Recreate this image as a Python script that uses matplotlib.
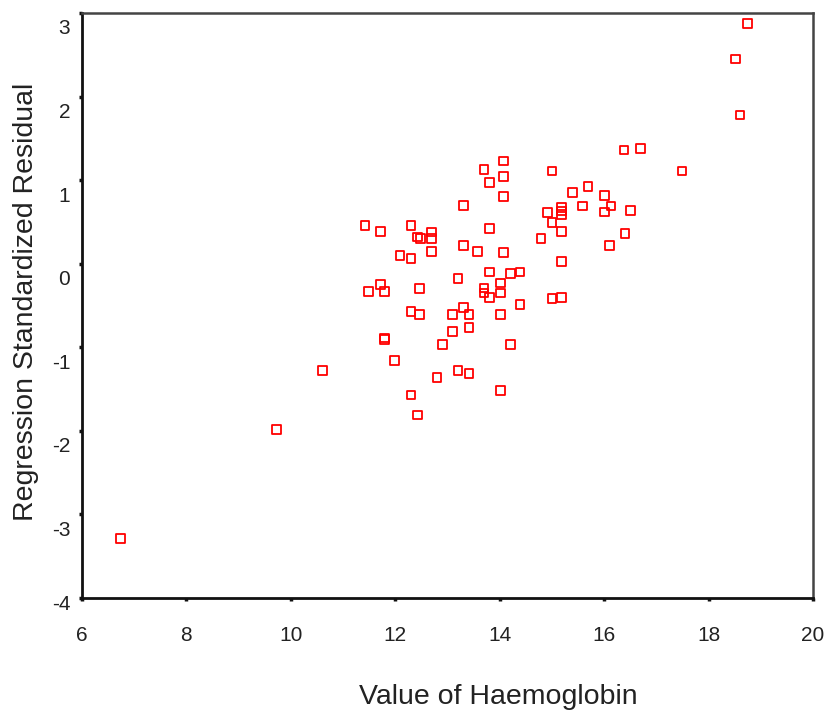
import matplotlib

matplotlib.use("Agg")
import matplotlib.pyplot as plt
import matplotlib.transforms as mtransforms

# Haemoglobin value vs regression standardized residual
haemoglobin = [
    6.73, 9.72, 10.60,
    11.42, 11.71, 11.48, 11.71, 11.80, 11.80, 11.80, 11.98,
    12.09, 12.30, 12.30, 12.42, 12.49, 12.70, 12.70, 12.70,
    12.30, 12.47, 12.47, 12.30, 12.42, 12.80, 12.91,
    13.09, 13.09, 13.20, 13.20, 13.30, 13.30, 13.30, 13.41, 13.41, 13.41,
    13.58, 13.70, 13.70, 13.70, 13.80, 13.80, 13.80, 13.80,
    14.01, 14.01, 14.01, 14.01, 14.08, 14.08, 14.08, 14.08,
    14.20, 14.20, 14.39, 14.39,
    14.79, 14.91, 15.00, 15.00, 15.00, 15.19, 15.19, 15.19, 15.19, 15.19, 15.19,
    15.40, 15.58, 15.69, 16.00, 16.00, 16.13, 16.11, 16.40, 16.50, 16.38, 16.69, 17.49,
    18.51, 18.60, 18.74,
]
std_residual = [
    -3.29, -1.98, -1.28,
    0.46, 0.39, -0.33, -0.25, -0.33, -0.89, -0.91, -1.16,
    0.10, 0.06, 0.46, 0.32, 0.30, 0.38, 0.30, 0.15,
    -0.57, -0.30, -0.61, -1.57, -1.81, -1.36, -0.97,
    -0.61, -0.81, -0.18, -1.28, 0.70, 0.22, -0.52, -0.61, -0.76, -1.31,
    0.15, 1.13, -0.29, -0.35, 0.97, 0.42, -0.10, -0.40,
    -0.23, -0.35, -0.61, -1.52, 1.23, 1.04, 0.80, 0.13,
    -0.12, -0.97, -0.10, -0.49,
    0.30, 0.61, 1.11, 0.49, -0.42, 0.67, 0.63, 0.59, 0.39, 0.03, -0.40,
    0.85, 0.69, 0.92, 0.82, 0.62, 0.69, 0.22, 0.36, 0.64, 1.36, 1.38, 1.11,
    2.45, 1.78, 2.87,
]
x_ticks = [6, 8, 10, 12, 14, 16, 18, 20]
y_ticks = [-4, -3, -2, -1, 0, 1, 2, 3]

plt.rcParams["font.family"] = ["Liberation Sans", "DejaVu Sans"]
plt.rcParams["axes.unicode_minus"] = False

fig = plt.figure(figsize=(8.26, 7.12), dpi=100)
ax = fig.add_axes([82 / 826, 1 - 598 / 712, 731 / 826, 585 / 712])

ax.scatter(haemoglobin, std_residual, marker="s", s=40,
           facecolors="none", edgecolors="#ff0000", linewidths=1.3, zorder=3)

ax.set_xlim(6, 20)
ax.set_ylim(-4, 3)
ax.set_xticks(x_ticks)
ax.set_yticks(y_ticks)

for side in ["left", "bottom"]:
    ax.spines[side].set_color("#111111")
    ax.spines[side].set_linewidth(2.0)
for side in ["top", "right"]:
    ax.spines[side].set_color("#444444")
    ax.spines[side].set_linewidth(1.8)

ax.tick_params(axis="both", direction="out", length=2.5, width=2.5,
               color="#111111", labelsize=15, labelcolor="#222222")
ax.tick_params(axis="x", pad=18)
ax.tick_params(axis="y", pad=6)

# SPSS style: y tick labels sit a little below their tick marks
for lbl, val in zip(ax.get_yticklabels(), y_ticks):
    dy = -4 / 100 if val == -4 else -14 / 100
    lbl.set_transform(lbl.get_transform() +
                      mtransforms.ScaledTranslation(0, dy, fig.dpi_scale_trans))

ax.set_xlabel("Value of Haemoglobin", fontsize=20.5, color="#222222", va="center")
ax.xaxis.set_label_coords((498 - 82) / 731, -(697 - 598) / 585)
ax.set_ylabel("Regression Standardized Residual", fontsize=20.5, color="#222222",
              va="center", ha="center")
ax.yaxis.set_label_coords((26 - 82) / 731, (598 - 302) / 585)

fig.savefig("out.png", dpi=100)
